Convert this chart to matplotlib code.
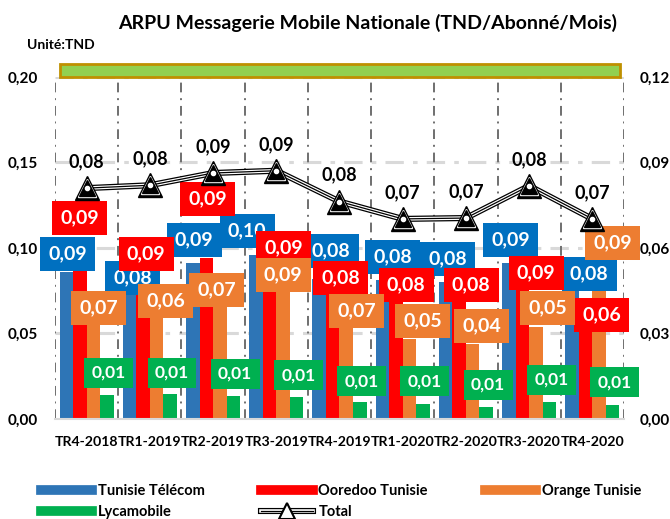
import numpy as np
import matplotlib.pyplot as plt
from matplotlib.lines import Line2D
from matplotlib.patches import Rectangle
from matplotlib.legend_handler import HandlerTuple
from matplotlib.ticker import FuncFormatter, MultipleLocator

plt.rcParams['font.family'] = ['Lato', 'DejaVu Sans']
plt.rcParams['font.weight'] = 'bold'

# data
quarters = ['TR4-2018', 'TR1-2019', 'TR2-2019', 'TR3-2019', 'TR4-2019',
            'TR1-2020', 'TR2-2020', 'TR3-2020', 'TR4-2020']
tunisie_telecom = [0.086, 0.082, 0.091, 0.096, 0.082, 0.081, 0.080, 0.091, 0.078]
ooredoo = [0.087, 0.088, 0.094, 0.092, 0.079, 0.080, 0.080, 0.090, 0.062]
orange = [0.068, 0.060, 0.070, 0.088, 0.068, 0.047, 0.044, 0.054, 0.087]
lycamobile = [0.014, 0.0146, 0.0134, 0.013, 0.0098, 0.0088, 0.0072, 0.0101, 0.0082]
total = [0.081, 0.082, 0.0863, 0.0871, 0.0763, 0.0702, 0.0705, 0.0818, 0.0702]

# where the value boxes sit, moved by hand in the original:
# y in left axis units, dx as a shift from the bar centre in category units
tt_lab_y = [0.0965, 0.0825, 0.1047, 0.1099, 0.0982, 0.0947, 0.0936, 0.1047, 0.0848]
oo_lab_y = [0.1175, 0.0965, 0.1287, 0.1000, 0.0825, 0.0784, 0.0784, 0.0854, 0.0608]
or_lab_y = [0.0649, 0.0690, 0.0754, 0.0842, 0.0632, 0.0573, 0.0544, 0.0649, 0.1029]
ly_lab_y = [0.0269, 0.0269, 0.0263, 0.0257, 0.0222, 0.0222, 0.0199, 0.0228, 0.0216]
tt_lab_dx = [0.02, 0.05, 0.02, -0.14, 0.19, 0.16, 0.03, 0.03, 0.27]
oo_lab_dx = [0.0, 0.05, 0.02, 0.22, 0.13, 0.16, 0.19, 0.22, 0.25]
or_lab_dx = [0.08, 0.14, -0.05, 0.0, 0.16, 0.21, 0.14, 0.19, 0.21]
ly_lab_dx = [0.03] * 9

def fmt(v):
    return '{:.2f}'.format(v).replace('.', ',')

fig = plt.figure(figsize=(6.7, 5.19), dpi=100)
ax = fig.add_axes([0.0821, 0.1927, 0.8492, 0.6590])
ax2 = ax.twinx()

x = np.arange(len(quarters))
w = 0.214
series = [
    (tunisie_telecom, '#2E75B6', '#0070C0', tt_lab_y, tt_lab_dx, 14),
    (ooredoo, '#FF0000', '#FF0000', oo_lab_y, oo_lab_dx, 14),
    (orange, '#ED7D31', '#ED7D31', or_lab_y, or_lab_dx, 14),
    (lycamobile, '#00B050', '#00B050', ly_lab_y, ly_lab_dx, 12.5),
]
for k, (vals, col, boxcol, laby, labdx, fs) in enumerate(series):
    xs = x + (k - 1.5) * w
    ax.bar(xs, vals, width=w, color=col, zorder=2)
    for xi, v, ly, dx in zip(xs, vals, laby, labdx):
        ax.text(xi + dx, ly, fmt(v), color='white', fontsize=fs, fontweight='bold',
                ha='center', va='center', zorder=5 + k,
                bbox=dict(boxstyle='square,pad=0.42', fc=boxcol, ec='none'))

# grid
for yv in [0.05, 0.10, 0.15, 0.20]:
    ax.axhline(yv, color='#D9D9D9', lw=2.2, ls=(0, (6, 3, 1.5, 3)), zorder=0)
ax.vlines(np.arange(-0.5, len(quarters)), 0, 0.2, color='#6F6F6F', lw=1.4,
          ls=(0, (5, 3, 1, 3)), zorder=1)

ax.set_xlim(-0.5, len(quarters) - 0.5)
ax.set_ylim(0, 0.2)
ax.yaxis.set_major_locator(MultipleLocator(0.05))
ax.yaxis.set_major_formatter(FuncFormatter(lambda v, p: fmt(v)))
ax.set_xticks(x)
ax.set_xticklabels(quarters)
ax.tick_params(axis='x', length=0, pad=12, labelsize=10.2)
ax.tick_params(axis='y', length=0, pad=12, labelsize=11)
for s in ['top', 'right', 'left']:
    ax.spines[s].set_visible(False)
ax.spines['bottom'].set_color('#D9D9D9')
ax.spines['bottom'].set_linewidth(1.5)

# total line on the right axis
ax2.set_ylim(0, 0.12)
ax2.yaxis.set_major_locator(MultipleLocator(0.03))
ax2.yaxis.set_major_formatter(FuncFormatter(lambda v, p: fmt(v)))
ax2.tick_params(axis='y', length=0, pad=11, labelsize=11)
for s in ['top', 'right', 'left', 'bottom']:
    ax2.spines[s].set_visible(False)

ax2.plot(x, total, color='black', lw=4.4, zorder=3, solid_joinstyle='round')
ax2.plot(x, total, color='white', lw=2.6, zorder=3)
ax2.plot(x, total, color='black', lw=0.9, zorder=3)
ax2.plot(x, total, ls='none', marker='^', ms=17, mfc='black', mec='black', zorder=4)
ax2.plot(x, total, ls='none', marker='^', ms=13.5, mfc='white', mec='white', zorder=4)
ax2.plot(x, total, ls='none', marker='^', ms=11, mfc='black', mec='black', zorder=4)
ax2.plot(x, total, ls='none', marker='o', ms=3, mfc='white', mec='white', zorder=4)
for xi, v in zip(x, total):
    ax2.annotate(fmt(v), (xi, v), xytext=(0, 19), textcoords='offset points',
                 ha='center', va='center', fontsize=13, fontweight='bold', zorder=6)

# titles
fig.text(0.548, 0.956, 'ARPU Messagerie Mobile Nationale (TND/Abonné/Mois)',
         ha='center', va='center', fontsize=14, fontweight='bold')
fig.text(0.040, 0.913, 'Unité:TND', ha='left', va='center', fontsize=10, fontweight='bold')

# green band on top
fig.patches.append(Rectangle((60 / 670, 1 - 77 / 519), 560 / 670, 13 / 519,
                             transform=fig.transFigure, fc='#92D050', ec='#BF9000', lw=2))

# legend
h_tt = Line2D([], [], color='#2E75B6', lw=7)
h_oo = Line2D([], [], color='#FF0000', lw=7)
h_or = Line2D([], [], color='#ED7D31', lw=7)
h_ly = Line2D([], [], color='#00B050', lw=7)
h_tot = (Line2D([], [], color='black', lw=4.4), Line2D([], [], color='white', lw=2.6),
         Line2D([], [], color='black', lw=0.9),
         Line2D([], [], ls='none', marker='^', ms=11, mfc='white', mec='black', mew=1.5))
fig.legend([h_tt, h_ly, h_oo, h_tot, h_or],
           ['Tunisie Télécom', 'Lycamobile', 'Ooredoo Tunisie', 'Total', 'Orange Tunisie'],
           handler_map={tuple: HandlerTuple(ndivide=1)},
           ncol=3, loc='center left', bbox_to_anchor=(0.061, 0.034), frameon=False,
           borderpad=0, borderaxespad=0, handlelength=3.5, handletextpad=0.4,
           columnspacing=3.9, labelspacing=0.5, prop={'size': 10.5, 'weight': 'bold'})

fig.savefig('out.png', dpi=100)
